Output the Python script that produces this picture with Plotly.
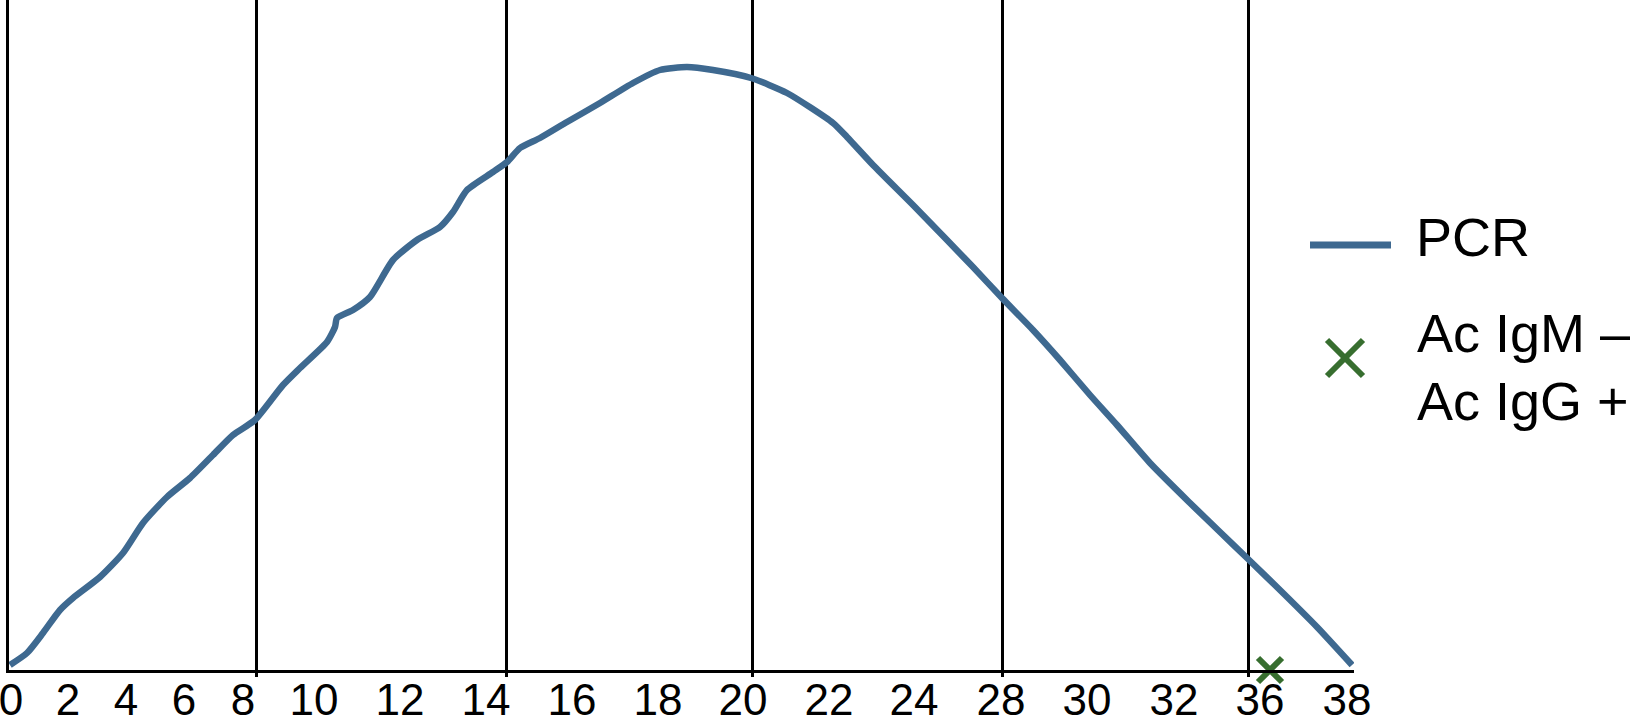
import plotly.graph_objects as go

# ---------------- data ----------------
# x: position along the time axis (chart units), y: PCR signal (arbitrary units)
pcr_x = [1, 18, 34, 51, 64, 91, 114, 134, 158, 181, 204, 224, 246, 274, 291, 318, 326, 328,
         344, 361, 384, 408, 431, 444, 458, 484, 498, 511, 531, 558, 591, 624, 651, 678, 704,
         742, 778, 824, 838, 864, 904, 938, 964, 993, 1024, 1051, 1081, 1108, 1141, 1181,
         1211, 1238, 1274, 1308, 1343]
pcr_y = [5, 17, 37, 60, 72, 93, 117, 147, 173, 192, 215, 235, 250, 285, 302, 328, 343, 352,
         360, 373, 410, 430, 443, 458, 480, 498, 508, 522, 532, 548, 567, 587, 600, 603, 600,
         592, 577, 547, 533, 505, 465, 430, 403, 372, 340, 310, 275, 245, 207, 167,
         138, 112, 77, 43, 5]

igm_x = [1261]
igm_y = [0]

tick_pos = [2, 59, 117, 175, 234, 305, 391, 477, 563, 649, 734, 820, 905, 992, 1078, 1165, 1251, 1338]
tick_labels = ["0", "2", "4", "6", "8", "10", "12", "14", "16", "18", "20", "22", "24",
               "28", "30", "32", "36", "38"]
grid_pos = [247, 497, 743, 993, 1239]

series_names = ["PCR", "Ac IgM –", "Ac IgG +"]

# ---------------- styling ----------------
W, H = 1637, 727
ML, MR, MT, MB = 9, 283, 0, 57
PW, PH = W - ML - MR, H - MT - MB
BLUE = "#3e6990"
GREEN = "#376e2f"
FONT = "Liberation Sans, Arial, Helvetica, sans-serif"


def px_x(px):
    return (px - ML) / PW


def px_y(py):
    return (H - MB - py) / PH


fig = go.Figure()
fig.add_trace(go.Scatter(x=pcr_x, y=pcr_y, mode="lines", name=series_names[0],
                         line=dict(color=BLUE, width=6.5, shape="spline", smoothing=0.6),
                         showlegend=False, cliponaxis=False))
fig.add_trace(go.Scatter(x=igm_x, y=igm_y, mode="markers",
                         name=series_names[1] + "<br>" + series_names[2],
                         marker=dict(symbol="x-thin", size=24, color=GREEN,
                                     line=dict(color=GREEN, width=6)),
                         showlegend=False, cliponaxis=False))

# manual legend
LX_Y = 358
shapes = [
    dict(type="line", xref="paper", yref="paper", x0=px_x(1310), x1=px_x(1391),
         y0=px_y(245), y1=px_y(245), line=dict(color=BLUE, width=7)),
    dict(type="line", xref="paper", yref="paper", x0=px_x(1327), x1=px_x(1363),
         y0=px_y(LX_Y - 18), y1=px_y(LX_Y + 18), line=dict(color=GREEN, width=6)),
    dict(type="line", xref="paper", yref="paper", x0=px_x(1327), x1=px_x(1363),
         y0=px_y(LX_Y + 18), y1=px_y(LX_Y - 18), line=dict(color=GREEN, width=6)),
]
annotations = [
    dict(text=series_names[0], x=px_x(1414), y=px_y(237)),
    dict(text=series_names[1], x=px_x(1415), y=px_y(333)),
    dict(text=series_names[2], x=px_x(1415), y=px_y(401)),
]
for a in annotations:
    a.update(xref="paper", yref="paper", xanchor="left", yanchor="middle",
             showarrow=False, font=dict(family=FONT, size=54, color="black"))

fig.update_layout(
    width=W, height=H,
    margin=dict(l=ML, r=MR, t=MT, b=MB, pad=0, autoexpand=False),
    paper_bgcolor="white", plot_bgcolor="white",
    showlegend=False,
    shapes=shapes, annotations=annotations,
    xaxis=dict(range=[0, PW], showline=True, linecolor="black", linewidth=3,
               automargin=False,
               tickmode="array", tickvals=tick_pos, ticktext=tick_labels,
               ticks="", showgrid=False, zeroline=False,
               ticklabeloverflow="allow", ticklabelstandoff=-11,
               tickfont=dict(family=FONT, size=44, color="black"),
               minor=dict(tickmode="array", tickvals=grid_pos, showgrid=True,
                          gridcolor="black", gridwidth=3, ticks="outside",
                          ticklen=4, tickwidth=3, tickcolor="black")),
    yaxis=dict(range=[0, PH], showline=True, linecolor="black", linewidth=3,
               automargin=False,
               showticklabels=False, ticks="", showgrid=False, zeroline=False),
)

fig.write_html("out.html", config={"displayModeBar": False},
               post_script="document.body.style.margin='0px';document.body.style.overflow='hidden';")
